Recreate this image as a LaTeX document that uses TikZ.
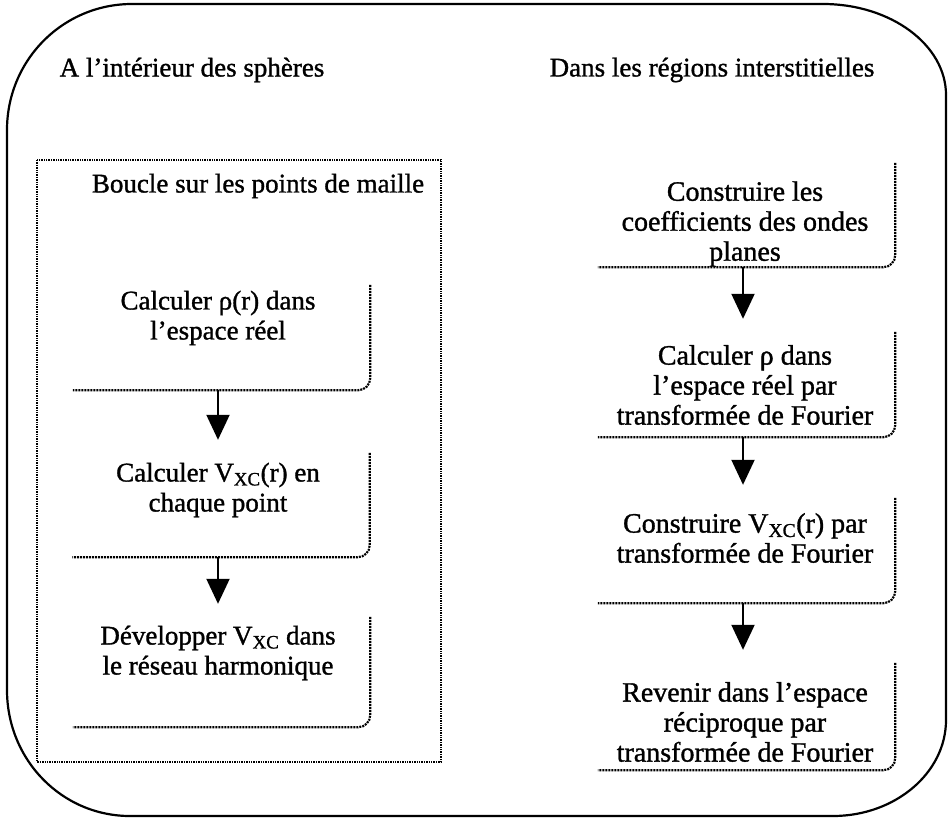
\documentclass[tikz,border=0pt]{standalone}
\usepackage{fontspec}
\setmainfont{Liberation Serif}[FakeBold=1.2]
\usetikzlibrary{arrows.meta}
\tikzset{
  txt/.style={align=center, inner sep=0pt, font=\fontsize{27}{30}\selectfont},
  txtr/.style={align=center, inner sep=0pt, font=\fontsize{28}{30}\selectfont},
  boxarea/.style={draw=none, inner sep=0pt, minimum width=297pt},
  edge/.style={line width=2.2pt, dash pattern=on 2pt off 1pt, rounded corners=12pt},
  arr/.style={line width=2pt, -{Triangle[width=23pt,length=25pt]}, shorten >=13pt},
  outer/.style={line width=2.2pt},
  loopbox/.style={line width=1.4pt, densely dotted}
}
\newcommand{\Vxc}{V\textsubscript{XC}}
\begin{document}
\begin{tikzpicture}[x=1pt,y=-1pt]
\useasboundingbox (0,0) rectangle (950,819);
% outer rounded frame
\draw[outer] (7,130) .. controls (7,60) and (63,4) .. (132,4)
  -- (823,4) .. controls (891,4) and (946,45) .. (946,95)
  -- (946,720) .. controls (946,773) and (895,816) .. (833,816)
  -- (130,816) .. controls (62,816) and (7,760) .. (7,690) -- cycle;
% headings
\node[txt] (h1) at (192,70) {A l'intérieur des sphères};
\node[txt] (h2) at (712,70) {Dans les régions interstitielles};
% loop box
\draw[loopbox] (37,160) rectangle (441,762);
\node[txt] (loop) at (258,186) {Boucle sur les points de maille};
% left boxes
\node[boxarea, minimum height=105pt] (L1) at (221.5,337.5) {};
\node[boxarea, minimum height=104pt] (L2) at (221,505) {};
\node[boxarea, minimum height=110pt] (L3) at (221.5,672) {};
\node[txt] (tL1) at (218,318) {Calculer ρ(r) dans\\l'espace réel};
\node[txt] (tL2) at (218,490) {Calculer \Vxc(r) en\\chaque point};
\node[txt] (tL3) at (218,653) {Développer \Vxc{} dans\\le réseau harmonique};
% right boxes
\node[boxarea, minimum height=104pt] (R1) at (746.5,215) {};
\node[boxarea, minimum height=105pt] (R2) at (746.5,384.5) {};
\node[boxarea, minimum height=105pt] (R3) at (746.5,550.5) {};
\node[boxarea, minimum height=107pt] (R4) at (746.5,716.5) {};
\node[txtr] (tR1) at (745,224) {Construire les\\coefficients des ondes\\planes};
\node[txtr] (tR2) at (745,385) {Calculer ρ dans\\l'espace réel par\\transformée de Fourier};
\node[txtr] (tR3) at (745,538) {Construire \Vxc(r) par\\transformée de Fourier};
\node[txtr] (tR4) at (745,722) {Revenir dans l'espace\\réciproque par\\transformée de Fourier};
% box edges (right + bottom)
\foreach \b in {L1,L2,L3,R1,R2,R3,R4}{
  \draw[edge] (\b.north east) -- (\b.south east) -- (\b.south west);
}
% arrows
\coordinate (la) at (218,0);
\coordinate (ra) at (743,0);
\draw[arr] (la |- L1.south) -- (la |- L2.north);
\draw[arr] (la |- L2.south) -- (la |- L3.north);
\draw[arr] (ra |- R1.south) -- (ra |- R2.north);
\draw[arr] (ra |- R2.south) -- (ra |- R3.north);
\draw[arr] (ra |- R3.south) -- (ra |- R4.north);
\end{tikzpicture}
\end{document}
